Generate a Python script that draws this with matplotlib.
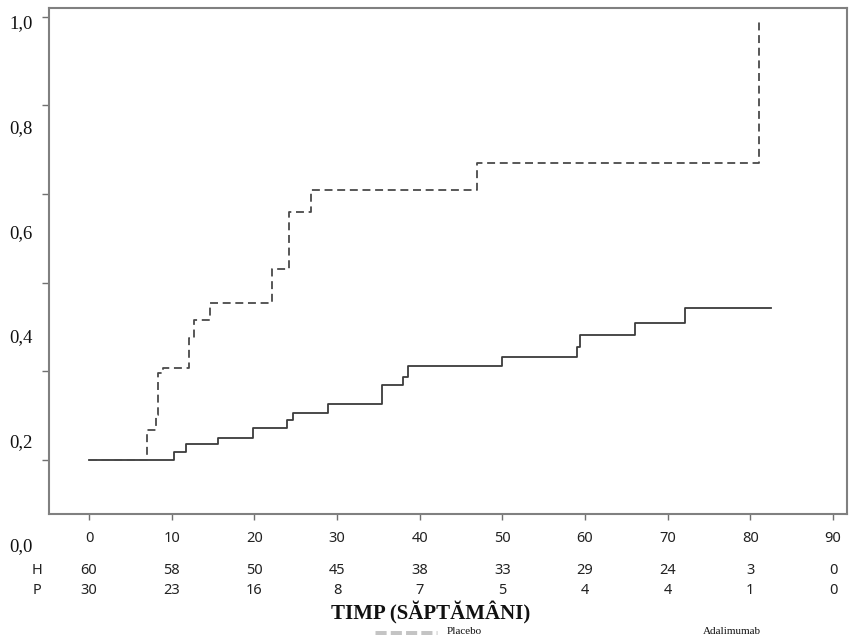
import matplotlib
matplotlib.use('Agg')
import matplotlib.pyplot as plt
import matplotlib.transforms as mtransforms
from matplotlib.lines import Line2D

# --- data ---
weeks_ticks = [0, 10, 20, 30, 40, 50, 60, 70, 80, 90]
at_risk_H = [60, 58, 50, 45, 38, 33, 29, 24, 3, 0]
at_risk_P = [30, 23, 16, 8, 7, 5, 4, 4, 1, 0]

# Placebo (dashed) step curve
placebo_t = [0, 7.0, 8.1, 8.4, 8.9, 12.1, 12.7, 14.6, 22.1, 24.2, 26.9, 46.9, 81.0]
placebo_v = [0, 0.068, 0.102, 0.196, 0.207, 0.275, 0.316, 0.355, 0.431, 0.560, 0.609, 0.671, 0.99]

# Adalimumab (solid) step curve
ada_t = [0, 10.3, 11.7, 15.6, 19.8, 24.0, 24.7, 28.9, 35.5, 38.0, 38.6, 50.0, 59.0, 59.4, 66.0, 72.1, 82.5]
ada_v = [0, 0.018, 0.035, 0.050, 0.072, 0.090, 0.106, 0.126, 0.169, 0.188, 0.211, 0.233, 0.256,
         0.282, 0.309, 0.342, 0.342]

y_ticks = [0.0, 0.2, 0.4, 0.6, 0.8, 1.0]
y_labels = ['0,0', '0,2', '0,4', '0,6', '0,8', '1,0']

W, H = 857, 635
fig = plt.figure(figsize=(W / 100, H / 100), dpi=100)

def px(x0, y0, x1, y1):
    # pixel box -> figure fraction rect
    return [x0 / W, 1 - y1 / H, (x1 - x0) / W, (y1 - y0) / H]

ax = fig.add_axes(px(49, 8, 847, 514))
ax.set_xlim(-4.84, 91.7)
ax.set_ylim(-0.122, 1.020)

ax.step(ada_t, ada_v, where='post', color='#3c3c3c', lw=1.3)
ax.step(placebo_t, placebo_v, where='post', color='#4a4a4a', lw=1.3,
        linestyle=(0, (4.4, 2.6)))

for s in ax.spines.values():
    s.set_color('#808080')
    s.set_linewidth(1.5)

ax.set_yticks(y_ticks)
ax.set_yticklabels([])
ax.tick_params(axis='y', length=5, width=1, color='#707070', direction='out')
ax.set_xticks(weeks_ticks)
ax.set_xticklabels([str(t) for t in weeks_ticks], fontsize=10.5, family='Noto Sans',
                   color='#222222')
ax.tick_params(axis='x', length=4.5, width=1, color='#707070', direction='out', pad=8)

# y labels sit on their own (shifted) scale, as in the reference
axl = fig.add_axes(px(49, 22, 847, 545), frameon=False)
axl.set_ylim(0, 1)
axl.set_xticks([])
axl.set_yticks(y_ticks)
axl.set_yticklabels(y_labels, family='Liberation Serif', fontsize=13.5, color='#111111')
axl.tick_params(axis='y', length=0, pad=12)
axl.patch.set_alpha(0)

# number at risk
trans = mtransforms.blended_transform_factory(ax.transData, fig.transFigure)
for t, h, p in zip(weeks_ticks, at_risk_H, at_risk_P):
    fig.text(t, 1 - 570.7 / H, str(h), transform=trans, ha='center', va='center',
             fontsize=10.5, family='Noto Sans', color='#222222')
    fig.text(t, 1 - 590.7 / H, str(p), transform=trans, ha='center', va='center',
             fontsize=10.5, family='Noto Sans', color='#222222')
fig.text(37 / W, 1 - 570.7 / H, 'H', ha='center', va='center', fontsize=10.5,
         family='Noto Sans', color='#222222')
fig.text(37 / W, 1 - 590.7 / H, 'P', ha='center', va='center', fontsize=10.5,
         family='Noto Sans', color='#222222')

fig.text(431 / W, 1 - 613 / H, 'TIMP (SĂPTĂMÂNI)', ha='center', va='center',
         fontsize=15, fontweight='bold', family='Liberation Serif', color='#111111')

# legend row along the bottom edge
fig.add_artist(Line2D([375 / W, 437 / W], [0.002, 0.002], transform=fig.transFigure,
                      color='#c4c4c4', lw=5, linestyle=(0, (1.6, 0.6))))
fig.text(447 / W, 1 - 633.5 / H, 'Placebo', ha='left', va='baseline', fontsize=8,
         family='Liberation Serif', color='#111111')
fig.text(703 / W, 1 - 633.5 / H, 'Adalimumab', ha='left', va='baseline', fontsize=8,
         family='Liberation Serif', color='#111111')

fig.savefig('out.png', dpi=100)
